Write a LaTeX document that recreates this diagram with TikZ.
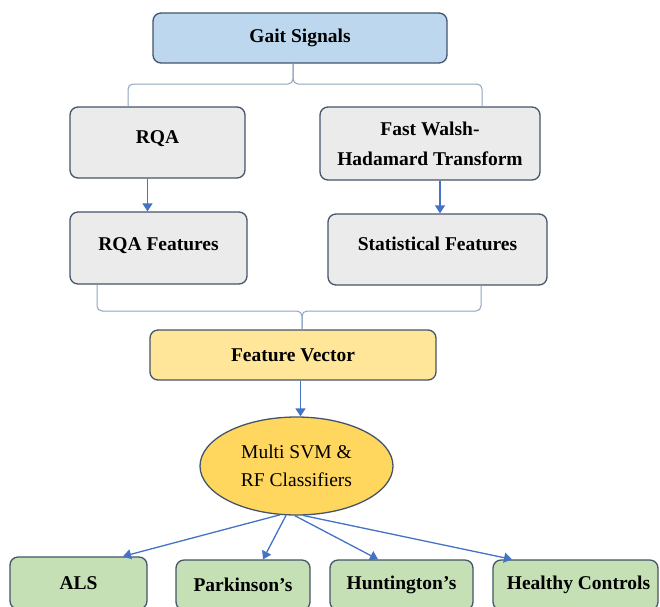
\documentclass[tikz,border=0pt]{standalone}
\usepackage{fontspec}
\setmainfont{Liberation Serif}
\usetikzlibrary{arrows.meta,shapes.geometric}
\definecolor{edgegray}{RGB}{68,84,106}
\definecolor{arrowblue}{RGB}{68,114,196}
\definecolor{bracegray}{RGB}{143,163,191}
\definecolor{signalblue}{RGB}{189,215,238}
\definecolor{stepgray}{RGB}{235,235,235}
\definecolor{vecyellow}{RGB}{255,230,153}
\definecolor{clfgold}{RGB}{255,215,95}
\definecolor{classgreen}{RGB}{197,224,180}

\begin{document}
\begin{tikzpicture}[x=1pt, y=-1pt,
    box/.style={draw=edgegray, line width=1.3pt, rounded corners=8pt, align=center, inner sep=0pt,
        font=\fontsize{19.5}{30}\selectfont\bfseries},
    lift/.style={text depth=#1},
    flow/.style={-{Triangle[width=10pt,length=8pt]}, draw=arrowblue, line width=1.3pt},
    joinline/.style={draw=bracegray, line width=1pt, rounded corners=5pt}]
    \useasboundingbox (0,0) rectangle (660,606);
    \clip (0,0) rectangle (660,606);

    \node (gait) [box, fill=signalblue, minimum width=294pt, minimum height=50pt] at (300,38) {Gait Signals};
    \node (rqa) [box, lift=11pt, fill=stepgray, minimum width=175pt, minimum height=71pt] at (157.5,142.5) {RQA};
    \node (fwht) [box, fill=stepgray, minimum width=220pt, minimum height=73pt] at (430,143.5) {Fast Walsh-\\Hadamard Transform};
    \node (rqafeat) [box, lift=7pt, fill=stepgray, minimum width=177pt, minimum height=72pt] at (158.5,248) {RQA Features};
    \node (statfeat) [box, lift=12pt, fill=stepgray, minimum width=219pt, minimum height=71pt] at (437.5,249.5) {Statistical Features};
    \node (fvec) [box, fill=vecyellow, minimum width=286pt, minimum height=50pt] at (293,355) {Feature Vector};
    \node (clf) [ellipse, draw=edgegray, line width=1.3pt, fill=clfgold, minimum width=193pt, minimum height=98pt,
        inner sep=0pt, align=center, font=\fontsize{19.5}{28}\selectfont] at (296.5,466) {Multi SVM \&\\RF Classifiers};

    \node (als) [box, fill=classgreen, minimum width=137pt, minimum height=52pt] at (78.5,583) {ALS};
    \node (park) [box, fill=classgreen, minimum width=134pt, minimum height=50pt] at (243,585) {Parkinson’s};
    \node (hunt) [box, fill=classgreen, minimum width=143pt, minimum height=50pt] at (401.5,585) {Huntington’s};
    \node (healthy) [box, fill=classgreen, minimum width=165pt, minimum height=50pt] at (575.5,585) {\hspace*{6pt}Healthy Controls};

    % bracket joins
    \coordinate (topjoin) at (293,84);
    \coordinate (botjoin) at (302,311);
    \draw[joinline] ([xshift=-29.5pt]rqa.north) |- (topjoin) -- ([xshift=-7pt]gait.south);
    \draw[joinline] ([xshift=52pt]fwht.north) |- (topjoin) -- ([xshift=-7pt]gait.south);
    \draw[joinline] ([xshift=-61.5pt]rqafeat.south) |- (botjoin) -- ([xshift=9pt]fvec.north);
    \draw[joinline] ([xshift=43.5pt]statfeat.south) |- (botjoin) -- ([xshift=9pt]fvec.north);

    \draw[flow] ([xshift=-10pt]rqa.south) -- ([xshift=-10pt]rqa.south |- rqafeat.north);
    \draw[flow] ([xshift=10pt]fwht.south) -- ([xshift=10pt]fwht.south |- statfeat.north);
    \draw[flow] ([xshift=7.5pt]fvec.south) -- ([xshift=7.5pt]fvec.south |- clf.north);

    \draw[flow] (clf.251) -- ([xshift=44.5pt]als.north);
    \draw[flow] (clf.258) -- ([xshift=20pt]park.north);
    \draw[flow] (clf.268) -- ([xshift=-23.5pt]hunt.north);
    \draw[flow] (clf.278) -- ([xshift=-63.5pt]healthy.north);
\end{tikzpicture}
\end{document}
